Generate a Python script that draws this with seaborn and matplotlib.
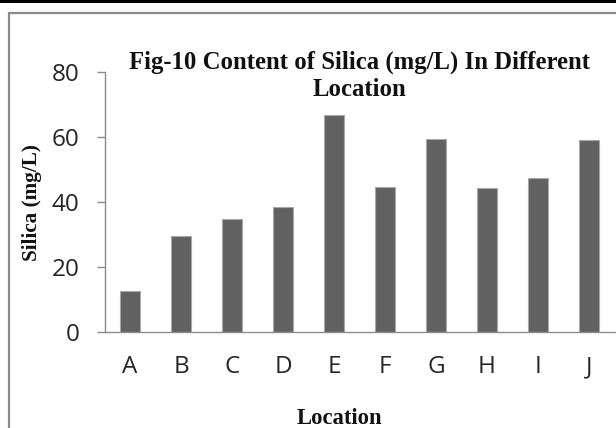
import matplotlib
matplotlib.use("Agg")
import matplotlib.pyplot as plt
from matplotlib.patches import Rectangle
from matplotlib.lines import Line2D
import seaborn as sns
import pandas as pd

# Silica content per sampling location
locations = ["A", "B", "C", "D", "E", "F", "G", "H", "I", "J"]
silica = [12.5, 29.6, 34.6, 38.3, 66.8, 44.5, 59.3, 44.2, 47.3, 59.0]
y_ticks = [0, 20, 40, 60, 80]

df = pd.DataFrame({"Location": locations, "Silica": silica})

sns.set_theme(style="white")
plt.rcParams["font.family"] = ["Open Sans", "DejaVu Sans"]

fig = plt.figure(figsize=(6.16, 4.28), dpi=100)
ax = fig.add_axes([104.5 / 616, 96.3 / 428, 510 / 616, 259.7 / 428])

sns.barplot(data=df, x="Location", y="Silica", color="#616161", width=0.40,
            edgecolor="#a8a8a8", linewidth=0.8, saturation=1, ax=ax)

ax.set_xlim(-0.5, len(locations) - 0.5)
ax.set_ylim(0, 80)
ax.set_yticks(y_ticks)
ax.set_yticklabels([str(v) for v in y_ticks])

axis_gray = "#8c8c8c"
for side in ("top", "right"):
    ax.spines[side].set_visible(False)
for side in ("left", "bottom"):
    ax.spines[side].set_color(axis_gray)
    ax.spines[side].set_linewidth(1.0)

ax.tick_params(axis="y", which="both", left=True, length=8.5 / 1.389, width=1.0,
               color=axis_gray, direction="out", pad=12, labelsize=17.5,
               labelcolor="#262626")
ax.tick_params(axis="x", which="both", bottom=False, length=0, pad=17,
               labelsize=17.5, labelcolor="#262626")

ax.set_xlabel("")
ax.set_ylabel("")

serif = ["Liberation Serif", "DejaVu Serif"]
title_x = 359.5 / 616
fig.text(title_x, 1 - 69 / 428, "Fig-10 Content of Silica (mg/L) In Different",
         ha="center", va="baseline", fontsize=17.8, fontweight="bold",
         family=serif, color="#111111")
fig.text(title_x, 1 - 96 / 428, "Location",
         ha="center", va="baseline", fontsize=17.8, fontweight="bold",
         family=serif, color="#111111")
fig.text(31.7 / 616, 1 - 202.5 / 428, "Silica (mg/L)", rotation=90,
         ha="center", va="center", fontsize=15.3, fontweight="bold",
         family=serif, color="#111111")
fig.text(339 / 616, 1 - 424 / 428, "Location", ha="center", va="baseline",
         fontsize=16.3, fontweight="bold", family=serif, color="#111111")

# outer chart border and top rule
fig.add_artist(Line2D([9.3 / 616, 9.3 / 616], [0, 1 - 12.7 / 428],
                      transform=fig.transFigure, color="#8a8a8a", linewidth=1.6))
fig.add_artist(Line2D([9.3 / 616, 1], [1 - 12.7 / 428, 1 - 12.7 / 428],
                      transform=fig.transFigure, color="#8a8a8a", linewidth=1.6))
fig.add_artist(Rectangle((0, 1 - 3.3 / 428), 1, 3.3 / 428, transform=fig.transFigure,
                         facecolor="black", edgecolor="none"))

fig.savefig("out.png", dpi=100)
